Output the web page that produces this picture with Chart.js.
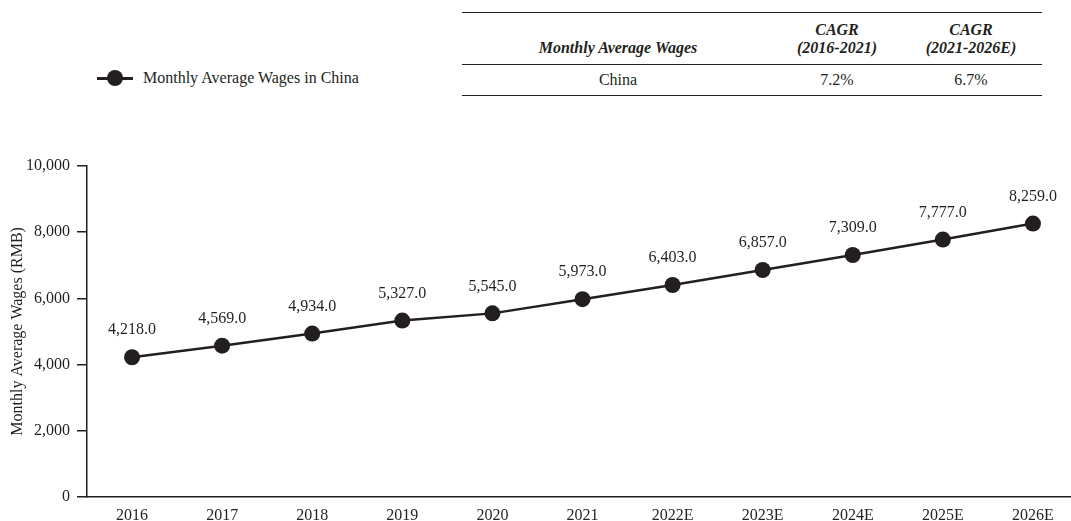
<!DOCTYPE html>
<html>
<head>
<meta charset="utf-8">
<script src="https://cdn.jsdelivr.net/npm/chart.js@4.4.1/dist/chart.umd.min.js"></script>
<style>
    html, body { margin: 0; padding: 0; background: #fff; overflow: hidden; }
    body { width: 1071px; height: 521px; position: relative; font-family: "Liberation Serif", "Times New Roman", serif; color: #231f20; }
    #chartBox { position: absolute; left: 0; top: 0; width: 1086px; height: 534px; }
    .legend { position: absolute; left: 97px; top: 68px; height: 20px; display: flex; align-items: center; font-size: 16px; }
    .legend .mark { position: relative; width: 36px; height: 20px; margin-right: 10px; }
    .legend .mark::before { content: ""; position: absolute; left: 0; right: 0; top: 9px; height: 2.5px; background: #231f20; }
    .legend .mark::after { content: ""; position: absolute; left: 10px; top: 2px; width: 16px; height: 16px; border-radius: 50%; background: #231f20; }
    table.cagr { position: absolute; left: 462px; top: 12px; width: 580px; border-collapse: collapse; font-size: 16px; }
    table.cagr th { font-weight: bold; font-style: italic; line-height: 18px; height: 44px; vertical-align: bottom; padding: 0 0 7px 0; text-align: center; border-top: 1.5px solid #231f20; border-bottom: 1.5px solid #231f20; }
    table.cagr td { text-align: center; height: 30px; padding: 0; vertical-align: middle; border-bottom: 1.5px solid #231f20; }
</style>
</head>
<body>
<div class="legend"><span class="mark"></span><span id="legendText"></span></div>
<table class="cagr">
    <thead><tr id="cagrHead"></tr></thead>
    <tbody><tr id="cagrRow"></tr></tbody>
</table>
<canvas id="chartBox" width="1086" height="534"></canvas>
<script>
// Data
const years = ["2016", "2017", "2018", "2019", "2020", "2021", "2022E", "2023E", "2024E", "2025E", "2026E"];
const wages = [4218.0, 4569.0, 4934.0, 5327.0, 5545.0, 5973.0, 6403.0, 6857.0, 7309.0, 7777.0, 8259.0];
const seriesName = "Monthly Average Wages in China";
const yTicks = [0, 2000, 4000, 6000, 8000, 10000];
const tableHeaders = ["Monthly Average Wages", "CAGR<br>(2016-2021)", "CAGR<br>(2021-2026E)"];
const tableRow = ["China", "7.2%", "6.7%"];

const ink = "#231f20";

document.getElementById("legendText").textContent = seriesName;
document.getElementById("cagrHead").innerHTML = tableHeaders
    .map((h, i) => `<th style="width:${[312, 126, 142][i]}px">${h}</th>`).join("");
document.getElementById("cagrRow").innerHTML = tableRow.map(v => `<td>${v}</td>`).join("");

Chart.defaults.font.family = '"Liberation Serif", "Times New Roman", serif';
Chart.defaults.font.size = 16;
Chart.defaults.color = ink;

// value labels above each point
const pointLabels = {
    id: "pointLabels",
    afterDatasetsDraw(chart) {
        const ctx = chart.ctx;
        const meta = chart.getDatasetMeta(0);
        ctx.save();
        ctx.font = '16px "Liberation Serif", "Times New Roman", serif';
        ctx.fillStyle = ink;
        ctx.textAlign = "center";
        ctx.textBaseline = "middle";
        meta.data.forEach((pt, i) => {
            const txt = wages[i].toLocaleString("en-US", { minimumFractionDigits: 1, maximumFractionDigits: 1 });
            ctx.fillText(txt, pt.x, pt.y - 27);
        });
        ctx.restore();
    }
};

new Chart(document.getElementById("chartBox"), {
    type: "line",
    data: {
        labels: years,
        datasets: [{
            label: seriesName,
            data: wages,
            borderColor: ink,
            backgroundColor: ink,
            borderWidth: 2.5,
            pointRadius: 8,
            pointHoverRadius: 8,
            pointBackgroundColor: ink,
            pointBorderColor: ink,
            pointBorderWidth: 0,
            tension: 0,
            clip: false
        }]
    },
    options: {
        responsive: false,
        animation: false,
        devicePixelRatio: 1,
        layout: { padding: { top: 166, right: 3, bottom: 0, left: 0 } },
        plugins: {
            legend: { display: false },
            tooltip: { enabled: false }
        },
        scales: {
            x: {
                type: "category",
                offset: true,
                grid: { display: false, drawTicks: false },
                border: { display: true, color: ink, width: 1.5 },
                ticks: { color: ink, padding: 9, maxRotation: 0, autoSkip: false }
            },
            y: {
                min: 0,
                max: 10000,
                afterBuildTicks(scale) {
                    scale.ticks = yTicks.map(v => ({ value: v }));
                },
                afterFit(scale) {
                    scale.width = 87;
                },
                grid: { drawOnChartArea: false, drawTicks: true, tickLength: 10, color: ink, lineWidth: 1.5 },
                border: { display: true, color: ink, width: 1.5 },
                ticks: {
                    color: ink,
                    padding: 7,
                    callback: v => v.toLocaleString("en-US")
                },
                title: {
                    display: true,
                    text: "Monthly Average Wages (RMB)",
                    color: ink,
                    font: { size: 16 },
                    padding: { top: 8, bottom: 0 }
                }
            }
        }
    },
    plugins: [pointLabels]
});
</script>
</body>
</html>
